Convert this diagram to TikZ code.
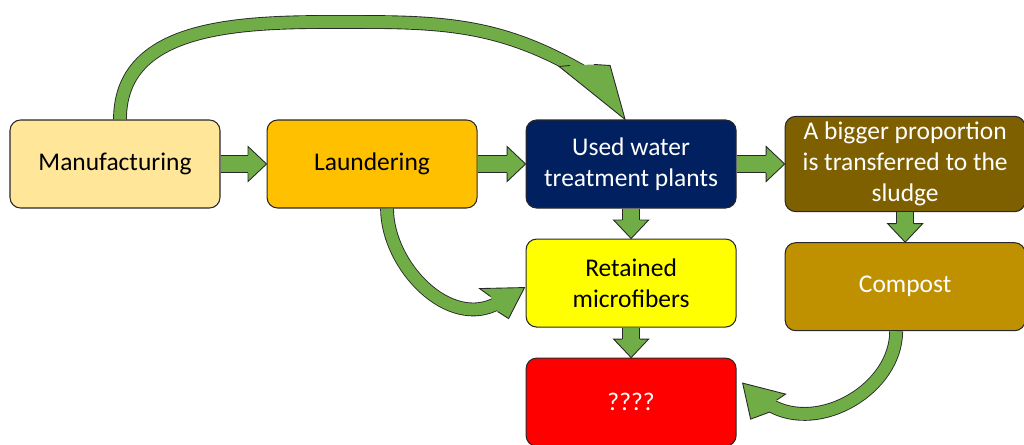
\documentclass[tikz,border=0pt]{standalone}
\usepackage{fontspec}
\setmainfont{Carlito}
\usepackage{tikz}
\usetikzlibrary{positioning, calc}
\definecolor{mypale}{RGB}{255,230,153}
\definecolor{myorange}{RGB}{255,192,0}
\definecolor{mynavy}{RGB}{0,32,96}
\definecolor{mybrown}{RGB}{127,96,0}
\definecolor{myyellow}{RGB}{255,255,0}
\definecolor{mygold}{RGB}{191,144,0}
\definecolor{myred}{RGB}{255,0,0}
\definecolor{mygreen}{RGB}{112,173,71}
\definecolor{mydark}{RGB}{40,40,40}
\tikzset{
  block/.style={rectangle, draw=mydark, fill=mypale, text=black,
    minimum width=4.2cm, minimum height=1.76cm, align=center,
    font=\fontsize{14.5}{17.5}\selectfont, rounded corners=6pt, line width=0.6pt},
  wideblock/.style={block, minimum width=4.8cm},
  shaft/.style={draw=mydark, line width=0.5pt, double=mygreen, double distance=0.33cm},
  thinshaft/.style={shaft, double distance=0.24cm},
  head/.style={fill=mygreen, draw=mydark, line width=0.5pt, line join=miter}
}
% arrow head: base, tip, half shaft width, half head width
\newcommand{\headat}[4]{%
  \filldraw[head] ($(#1)!#3!90:(#2)$) -- ($(#1)!#4!90:(#2)$) -- (#2)
    -- ($(#1)!#4!-90:(#2)$) -- ($(#1)!#3!-90:(#2)$);}
% straight block arrow between two anchors
\newcommand{\fatarrow}[2]{%
  \coordinate (fa) at ($(#2)!0.37cm!(#1)$);
  \draw[shaft] (#1) -- (fa);
  \headat{fa}{#2}{0.18cm}{0.35cm}}

\begin{document}
\begin{tikzpicture}
  \useasboundingbox (0,0) rectangle (20.48,8.88);

  % Top row
  \node[block] (manu) at (2.3,5.6) {Manufacturing};
  \node[block, fill=myorange, right=0.92cm of manu] (laund) {Laundering};
  \node[block, fill=mynavy, text=white, right=0.96cm of laund] (used) {Used water\\treatment plants};
  \node[wideblock, fill=mybrown, text=white, right=0.96cm of used] (big) {A bigger proportion\\is transferred to the\\sludge};

  % Lower rows
  \node[block, fill=myyellow, below=0.6cm of used] (ret) {Retained\\microfibers};
  \node[block, fill=myred, text=white, below=0.6cm of ret] (unk) {????};
  \node[wideblock, fill=mygold, text=white, below=0.6cm of big] (comp) {Compost};

  % Straight arrows
  \fatarrow{manu.east}{laund.west}
  \fatarrow{laund.east}{used.west}
  \fatarrow{used.east}{big.west}
  \fatarrow{used.south}{ret.north}
  \fatarrow{ret.south}{unk.north}
  \fatarrow{big.south}{comp.north}

  % Curved arrow over the top
  \coordinate (s1) at ($(manu.north)+(0.1,0)$);
  \coordinate (pk) at (7.3,8.44);
  \coordinate (t1) at ($(used.north)+(-0.12,0)$);
  \coordinate (b1) at ($(t1)+(-0.86,0.96)$);
  \draw[thinshaft] (s1) to[out=90, in=180] (pk) to[out=0, in=150] (b1);
  \filldraw[head] (t1) ++(-1.1,1.08) -- ++(-0.22,-0.02) -- (t1) -- ++(-0.30,1.08) -- ++(-0.32,0.02);

  % Curved arrow from Laundering
  \coordinate (s2) at ($(laund.south)+(0.3,0)$);
  \coordinate (t2) at ($(ret.west)+(-0.02,-0.09)$);
  \coordinate (b2) at ($(t2)+(-0.52,-0.3)$);
  \draw[thinshaft] (s2) to[out=-90, in=210] (b2);
  \filldraw[head] (t2) ++(-0.68,-0.18) -- ++(-0.22,0.16) -- (t2) -- ++(-0.32,-0.62) -- ++(-0.22,0.14);

  % Curved arrow from Compost
  \coordinate (s3) at ($(comp.south)+(-0.18,0)$);
  \coordinate (t3) at ($(unk.east)+(0.12,0.38)$);
  \coordinate (b3) at ($(t3)+(0.55,-0.44)$);
  \draw[thinshaft] (s3) to[out=-90, in=-30] (b3);
  \filldraw[head] (t3) ++(0.68,-0.34) -- ++(0.18,0.12) -- (t3) -- ++(0.16,-0.72) -- ++(0.38,0.14);
\end{tikzpicture}
\end{document}
